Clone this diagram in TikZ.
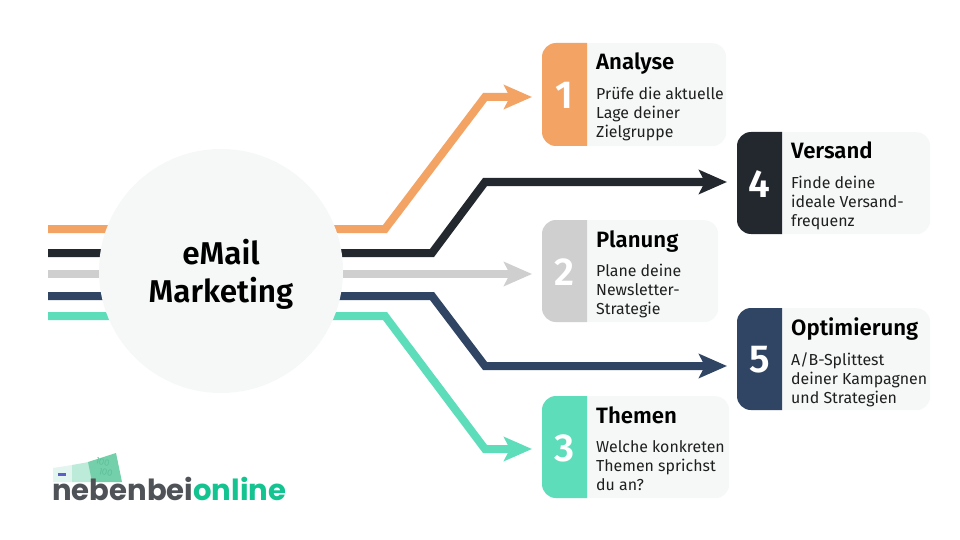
\documentclass[tikz,border=0pt]{standalone}
\usepackage{fontspec}
\setmainfont{Fira Sans}
\newfontfamily\fmed{Fira Sans SemiBold}
\newfontfamily\logofont{Poppins}[BoldFont={Poppins Bold}]
\usetikzlibrary{arrows.meta,backgrounds}
\definecolor{cOrange}{HTML}{F3A464}
\definecolor{cBlack}{HTML}{23282F}
\definecolor{cGray}{HTML}{CFCFCF}
\definecolor{cNavy}{HTML}{2F4563}
\definecolor{cTeal}{HTML}{5EDDBB}
\definecolor{cCard}{HTML}{F6F8F8}
\definecolor{cLogoG}{HTML}{4F5357}
\definecolor{cLogoT}{HTML}{14C490}
\definecolor{cNoteA}{HTML}{E3F5EF}
\definecolor{cNoteB}{HTML}{BDEBD9}
\definecolor{cNoteC}{HTML}{74D0AB}
\definecolor{cNoteT}{HTML}{5CBF99}
\definecolor{cMark}{HTML}{5B5FC7}
\tikzset{
  x=1pt,y=-1pt,
  cardbox/.style={fill=cCard,rounded corners=14pt,inner sep=0pt,anchor=north west},
  numtext/.style={text=white,font=\fmed\fontsize{39}{39}\selectfont,anchor=center,inner sep=0pt},
  titletext/.style={font=\fmed\fontsize{22.2}{24}\selectfont,anchor=base west,inner sep=0pt,text=black},
  bodytext/.style={font=\fontsize{15.9}{19}\selectfont,anchor=north west,inner sep=0pt,align=left,text=black!88},
  link/.style={line width=8pt,line join=miter,draw=#1,-{Stealth[length=28pt,width=24pt,inset=6pt]},shorten >=10pt},
  hubdisc/.style={circle,fill=cCard,minimum size=244pt,inner sep=0pt},
  centertext/.style={font=\fmed\fontsize{31.5}{38}\selectfont,align=center,text=black,inner sep=0pt},
  notetext/.style={font=\logofont\fontsize{8.5}{8.5}\selectfont,text=cNoteT,inner sep=0pt},
}
% name, x, y, width, height, colour, number, title, body
\newcommand{\cardnode}[9]{%
  \node[cardbox,minimum width=#4pt,minimum height=#5pt] (#1) at (#2,#3) {};
  \fill[#6] (#2+45,#3) [rounded corners=14pt] -- (#2,#3) -- (#2,#3+#5) [sharp corners] -- (#2+45,#3+#5) -- cycle;
  \node[numtext] (#1n) at (#2+22.5,#3+52) {#7};
  \node[titletext] (#1t) at (#2+54,#3+27) {#8};
  \node[bodytext] (#1b) at (#2+54,#3+44) {\rule{0pt}{12pt}#9};
}
\begin{document}
\begin{tikzpicture}
\useasboundingbox (0,0) rectangle (960,540);
\node[hubdisc] (hub) at (221,271) {};
\node[centertext] (hubt) at (221,274) {eMail\\Marketing};
\cardnode{a}{542}{43}{184}{103}{cOrange}{1}{Analyse}{Prüfe die aktuelle\\Lage deiner\\Zielgruppe}
\cardnode{v}{737}{132}{193}{102}{cBlack}{4}{Versand}{Finde deine\\ideale Versand-\\frequenz}
\cardnode{p}{542}{220}{176}{102}{cGray}{2}{Planung}{Plane deine\\Newsletter-\\Strategie}
\cardnode{o}{737}{308}{193}{102}{cNavy}{5}{Optimierung}{A/B-Splittest\\deiner Kampagnen\\und Strategien}
\cardnode{t}{542}{396}{187}{102}{cTeal}{3}{Themen}{Welche konkreten\\Themen sprichst\\du an?}
\coordinate (s1) at (48,229);
\coordinate (s2) at (48,253);
\coordinate (s3) at (48,274);
\coordinate (s4) at (48,296);
\coordinate (s5) at (48,316);
\coordinate (b1) at (485,97);
\coordinate (b2) at (485,182);
\coordinate (b4) at (485,366);
\coordinate (b5) at (485,449);
\begin{scope}[on background layer]
\fill[white] (0,0) rectangle (960,540);
\draw[link=cOrange] (s1) -- (385,229) -- (b1) -- (b1 -| a.west);
\draw[link=cBlack] (s2) -- (432,253) -- (b2) -- (b2 -| v.west);
\draw[link=cGray] (s3) -- (s3 -| p.west);
\draw[link=cNavy] (s4) -- (432,296) -- (b4) -- (b4 -| o.west);
\draw[link=cTeal] (s5) -- (385,316) -- (b5) -- (b5 -| t.west);
\end{scope}
% logo
\fill[cNoteA] (53,468) -- (72,465) -- (72,482) -- (53,482) -- cycle;
\fill[cNoteB] (72,465) -- (89,462) -- (92,482) -- (72,482) -- cycle;
\fill[cNoteC] (88,462) -- (116,453) -- (122,482) -- (92,482) -- cycle;
\fill[cMark] (58,473) rectangle (66,476);
\node[notetext,rotate=-13] (n1) at (103,462) {100};
\node[notetext,rotate=-13] (n2) at (106,472.5) {100};
\node[font=\logofont\bfseries\fontsize{29.1}{26}\selectfont,anchor=base west,inner sep=0pt] (logo) at (52,500) {\textcolor{cLogoG}{nebenbei}\textcolor{cLogoT}{online}};
\end{tikzpicture}
\end{document}
